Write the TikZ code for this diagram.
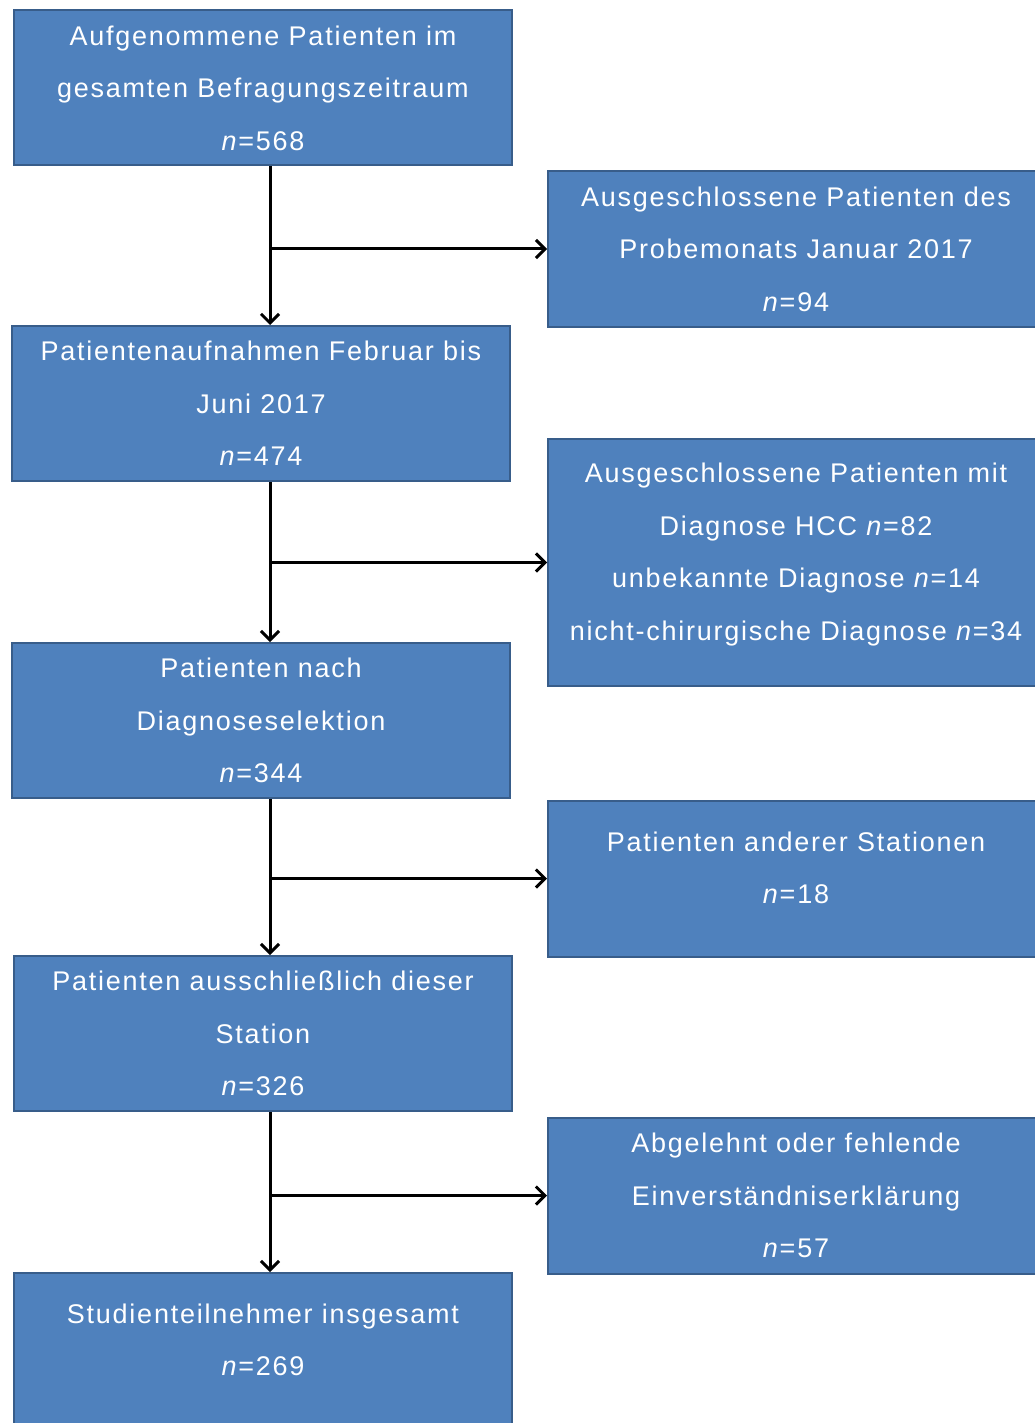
\documentclass[tikz,border=0pt]{standalone}
\usepackage{fontspec}
\setmainfont{Liberation Sans}[LetterSpace=6.5]
\usetikzlibrary{arrows.meta,positioning}
\definecolor{boxblue}{HTML}{4F81BD}
\definecolor{boxline}{HTML}{385D8A}
\tikzset{
  stage/.style={draw=boxline, line width=2pt, fill=boxblue, text=white,
    align=center, inner sep=0pt, minimum width=498pt, minimum height=155pt,
    font=\fontsize{27}{52.5}\selectfont},
  excl/.style={stage, minimum width=496pt, minimum height=156pt},
  lifted/.style={text depth=22pt},
  flow/.style={line width=3pt, -{Straight Barb[length=9pt,width=18pt,line width=3pt]}}
}

\begin{document}
\begin{tikzpicture}[x=1pt,y=-1pt]
			\useasboundingbox (0,0) rectangle (1035,1423);
			\coordinate (trunk) at (270,0);
			
			\node (s1) at (263,88) [stage] {Aufgenommene Patienten im\\gesamten Befragungszeitraum\\\textit{n}=568};
			\node (s2) at (261,403.5) [stage] {Patientenaufnahmen Februar bis\\Juni 2017\\\textit{n}=474};
			\node (s3) at (261,720.5) [stage] {Patienten nach\\Diagnoseselektion\\\textit{n}=344};
			\node (s4) at (263,1033.5) [stage] {Patienten ausschließlich dieser\\Station\\\textit{n}=326};
			\node (s5) at (263,1350.5) [stage,lifted] {Studienteilnehmer insgesamt\\\textit{n}=269};
			
			\node (x1) at (796,249) [excl] {Ausgeschlossene Patienten des\\Probemonats Januar 2017\\\textit{n}=94};
			\node (x2) at (796,562.5) [excl,lifted,minimum height=247pt] {Ausgeschlossene Patienten mit\\Diagnose HCC \textit{n}=82\\unbekannte Diagnose \textit{n}=14\\nicht-chirurgische Diagnose \textit{n}=34};
			\node (x3) at (796,878.5) [excl,lifted] {Patienten anderer Stationen\\\textit{n}=18};
			\node (x4) at (796,1195.5) [excl] {Abgelehnt oder fehlende\\Einverständniserklärung\\\textit{n}=57};
			
			\draw[flow] (s1.south -| trunk) -- (s2.north -| trunk);
			\draw[flow] (s2.south -| trunk) -- (s3.north -| trunk);
			\draw[flow] (s3.south -| trunk) -- (s4.north -| trunk);
			\draw[flow] (s4.south -| trunk) -- (s5.north -| trunk);
			
			\draw[flow] (trunk |- x1.west) -- (x1.west);
			\draw[flow] (trunk |- x2.west) -- (x2.west);
			\draw[flow] (trunk |- x3.west) -- (x3.west);
			\draw[flow] (trunk |- x4.west) -- (x4.west);
		\end{tikzpicture}
\end{document}
